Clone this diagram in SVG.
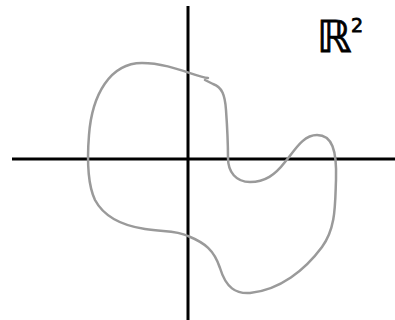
<svg xmlns="http://www.w3.org/2000/svg" width="395" height="320" viewBox="0 0 395 320">
<style>
.axis{stroke:#000;stroke-width:3;fill:none}
.curve{stroke:#9a9a9a;stroke-width:2.5;fill:none;stroke-linecap:round;stroke-linejoin:round}
.lbl{font-family:"DejaVu Sans",sans-serif;fill:#000;stroke:#000;stroke-width:0.8}
</style>
<rect width="395" height="320" fill="#fff"/>
<g id="connectors">
<line class="axis" x1="12" y1="159" x2="395" y2="159"/>
<line class="axis" x1="188" y1="6" x2="188" y2="320"/>
</g>
<g id="curve">
<path class="curve" d="M208,78 C196,77 170,63 142,63 C110,63 92,95 89,135 C87,160 88,185 95,200 C103,215 118,225 145,229 C165,232 176,230 188,236 C205,243 214,250 220,268 C226,288 236,294 250,293 C280,290 305,270 322,247 C336,228 335,205 336,180 C337,150 332,135 317,135 C303,135 295,150 285,162 C275,175 265,182 250,182 C236,182 228,172 228,158 C228,140 227,124 226,110 C225,95 222,87 213,84 L205,80"/>
</g>
<g id="label">
<text class="lbl" x="317" y="52" font-size="44">ℝ</text>
<text class="lbl" x="351" y="32" font-size="19">2</text>
</g>
</svg>
